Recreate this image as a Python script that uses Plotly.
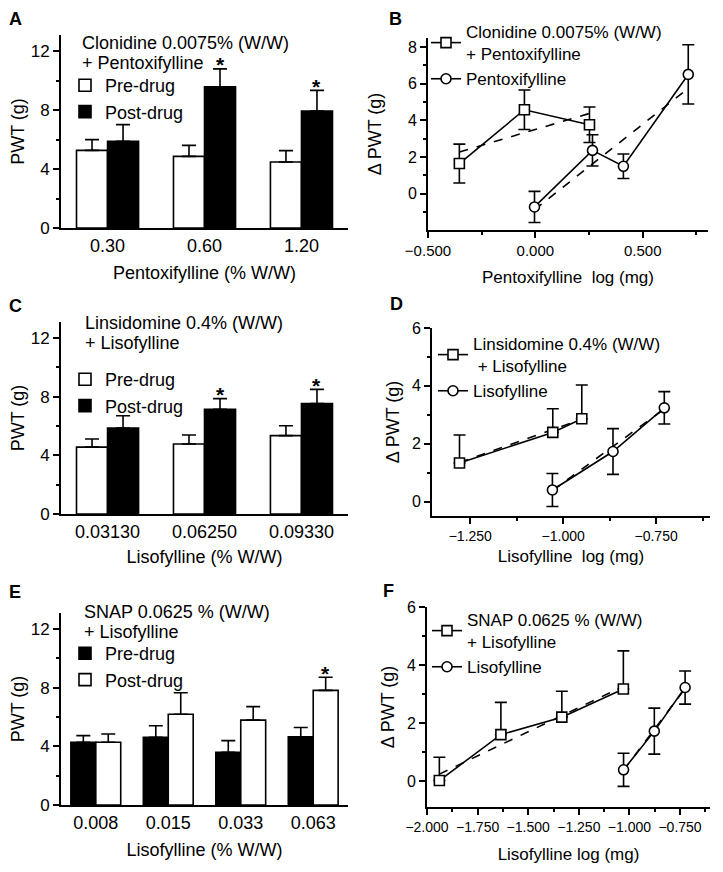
import plotly.graph_objects as go

# The page body has an 8px margin, so the figure is drawn 8px in from the window edge.
OFF = 8
W, H = 723 - 2 * OFF, 872 - 2 * OFF
FONT = "Arial, Liberation Sans, sans-serif"

# ---------------- Panel A data ----------------
a_cats = ["0.30", "0.60", "1.20"]
a_pre = [5.27, 4.86, 4.48]
a_pre_err = [0.73, 0.75, 0.77]
a_post = [5.88, 9.59, 7.93]
a_post_err = [1.14, 1.21, 1.41]
a_sig = [False, True, True]

# ---------------- Panel B data ----------------
b_sq_x = [-0.354, -0.051, 0.252]
b_sq_y = [1.64, 4.58, 3.76]
b_sq_err = [1.06, 1.08, 0.97]
b_ci_x = [-0.004, 0.266, 0.410, 0.712]
b_ci_y = [-0.73, 2.36, 1.49, 6.51]
b_ci_err = [0.85, 0.85, 0.67, 1.62]
b_sq_fit_x = [-0.354, 0.252]
b_sq_fit_y = [2.27, 4.38]
b_ci_fit_x = [-0.004, 0.712]
b_ci_fit_y = [-0.88, 5.75]

# ---------------- Panel C data ----------------
c_cats = ["0.03130", "0.06250", "0.09330"]
c_pre = [4.56, 4.78, 5.35]
c_pre_err = [0.56, 0.61, 0.67]
c_post = [5.87, 7.15, 7.53]
c_post_err = [0.83, 0.72, 0.97]
c_sig = [False, True, True]

# ---------------- Panel D data ----------------
d_sq_x = [-1.279, -1.028, -0.950]
d_sq_y = [1.33, 2.39, 2.86]
d_sq_err = [0.97, 0.82, 1.17]
d_ci_x = [-1.029, -0.866, -0.728]
d_ci_y = [0.40, 1.73, 3.24]
d_ci_err = [0.57, 0.79, 0.56]
d_sq_fit_x = [-1.279, -0.950]
d_sq_fit_y = [1.35, 2.84]
d_ci_fit_x = [-1.029, -0.728]
d_ci_fit_y = [0.38, 3.20]

# ---------------- Panel E data ----------------
e_cats = ["0.008", "0.015", "0.033", "0.063"]
e_pre = [4.28, 4.62, 3.60, 4.66]
e_pre_err = [0.45, 0.79, 0.79, 0.63]
e_post = [4.28, 6.19, 5.79, 7.82]
e_post_err = [0.56, 1.47, 0.92, 0.90]
e_sig = [False, False, False, True]

# ---------------- Panel F data ----------------
f_sq_x = [-1.939, -1.635, -1.334, -1.030]
f_sq_y = [0.03, 1.61, 2.21, 3.18]
f_sq_err = [0.80, 1.11, 0.89, 1.31]
f_ci_x = [-1.029, -0.877, -0.725]
f_ci_y = [0.40, 1.73, 3.23]
f_ci_err = [0.57, 0.79, 0.57]
f_sq_fit_x = [-1.939, -1.030]
f_sq_fit_y = [0.25, 3.27]
f_ci_fit_x = [-1.029, -0.725]
f_ci_fit_y = [0.38, 3.20]


def px(x):
    return (x - OFF) / W


def py(y):
    return 1 - (y - OFF) / H


def dx(l, r):
    return [px(l), px(r)]


def dy(top, bottom):
    return [py(bottom), py(top)]


fig = go.Figure()

AX = dict(showline=True, linecolor="black", linewidth=2, showgrid=False,
          zeroline=False, ticks="outside", ticklen=6, tickwidth=2,
          tickcolor="black", automargin=False,
          title_font=dict(size=18, color="black", family=FONT))


def tf(s):
    return dict(size=s, color="black", family=FONT)


def bar_panel(n, cats, pre, pre_err, post, post_err, sig, pre_fill, post_fill,
              xdom, ydom, xtitle, bw, legname, xstand):
    xa = "x" if n == 1 else f"x{n}"
    ya = "y" if n == 1 else f"y{n}"
    for name, vals, errs, fill, off in [("Pre-drug", pre, pre_err, pre_fill, -bw),
                                        ("Post-drug", post, post_err, post_fill, 0)]:
        fig.add_trace(go.Bar(
            x=cats, y=vals, name=name, width=bw, offset=off,
            marker=dict(color=fill, line=dict(color="black", width=1.6)),
            error_y=dict(type="data", symmetric=False, array=errs,
                         arrayminus=[0] * len(errs), color="black",
                         thickness=1.6, width=7),
            xaxis=xa, yaxis=ya, legend=legname, showlegend=True))
    for i, s in enumerate(sig):
        if s:
            fig.add_annotation(x=i + bw / 2, y=post[i] + post_err[i], xref=xa, yref=ya,
                               text="<b>*</b>", showarrow=False, yanchor="middle",
                               yshift=4, font=tf(21))
    k = "" if n == 1 else str(n)
    fig.update_layout({
        f"xaxis{k}": dict(AX, domain=xdom, type="category", ticks="",
                          range=[-0.48, len(cats) - 0.52], anchor=ya,
                          title=dict(text=xtitle, standoff=xstand),
                          tickfont=tf(18)),
        f"yaxis{k}": dict(AX, domain=ydom, range=[0, 13.1], dtick=4, anchor=xa,
                          tickfont=tf(17),
                          minor=dict(ticks="outside", dtick=2, ticklen=3, tickwidth=1.5,
                                     tickcolor="black"),
                          title=dict(text="PWT (g)", standoff=4)),
    })


def line_panel(n, sq, ci, sqfit, cifit, sq_sym, xdom, ydom, xrange, yrange,
               xt0, xdt, xtitle, sqname, ciname, legname, xfs, xstand, ystand):
    xa = f"x{n}"
    ya = f"y{n}"
    for (fx, fy) in [sqfit, cifit]:
        fig.add_trace(go.Scatter(x=fx, y=fy, mode="lines",
                                 line=dict(color="black", width=1.6, dash="dash"),
                                 xaxis=xa, yaxis=ya, showlegend=False, hoverinfo="skip"))
    sx, sy, se = sq
    err = dict(type="data", array=se, color="black", thickness=1.6, width=6)
    if not sq_sym:
        err = dict(type="data", symmetric=False, array=se, arrayminus=[0] * len(se),
                   color="black", thickness=1.6, width=6)
    fig.add_trace(go.Scatter(x=sx, y=sy, mode="lines+markers", name=sqname,
                             line=dict(color="black", width=1.6),
                             marker=dict(symbol="square", size=10, color="white",
                                         line=dict(color="black", width=1.6)),
                             error_y=err, xaxis=xa, yaxis=ya, legend=legname))
    cx, cy, ce = ci
    fig.add_trace(go.Scatter(x=cx, y=cy, mode="lines+markers", name=ciname,
                             line=dict(color="black", width=1.6),
                             marker=dict(symbol="circle", size=10, color="white",
                                         line=dict(color="black", width=1.6)),
                             error_y=dict(type="data", array=ce, color="black",
                                          thickness=1.6, width=6),
                             xaxis=xa, yaxis=ya, legend=legname))
    fig.update_layout({
        f"xaxis{n}": dict(AX, domain=xdom, range=xrange, tick0=xt0, dtick=xdt,
                          tickformat=".3f", anchor=ya, tickfont=tf(xfs),
                          minor=dict(ticks="outside", dtick=xdt / 2, ticklen=3,
                                     tickwidth=1.5, tickcolor="black"),
                          title=dict(text=xtitle, standoff=xstand,
                                     font=tf(17))),
        f"yaxis{n}": dict(AX, domain=ydom, range=yrange, tick0=0, dtick=2, anchor=xa,
                          tickfont=tf(16),
                          minor=dict(ticks="outside", dtick=1, ticklen=3,
                                     tickwidth=1.5, tickcolor="black"),
                          title=dict(text="\u0394 PWT (g)", standoff=ystand)),
    })


bar_panel(1, a_cats, a_pre, a_pre_err, a_post, a_post_err, a_sig, "white", "black",
          dx(61, 348), dy(35, 228), "Pentoxifylline (% W/W)", 0.32, "legend", 12)
line_panel(2, (b_sq_x, b_sq_y, b_sq_err), (b_ci_x, b_ci_y, b_ci_err),
           (b_sq_fit_x, b_sq_fit_y), (b_ci_fit_x, b_ci_fit_y), True,
           dx(428, 708), dy(38, 230), [-0.5, 0.804], [-1.99, 8.5], -0.5, 0.5,
           "Pentoxifylline  log (mg)", "Clonidine 0.0075% (W/W)<br>+ Pentoxifylline",
           "Pentoxifylline", "legend2", 15, 13, 22)
bar_panel(3, c_cats, c_pre, c_pre_err, c_post, c_post_err, c_sig, "white", "black",
          dx(61, 348), dy(322, 514), "Lisofylline (% W/W)", 0.32, "legend3", 10)
line_panel(4, (d_sq_x, d_sq_y, d_sq_err), (d_ci_x, d_ci_y, d_ci_err),
           (d_sq_fit_x, d_sq_fit_y), (d_ci_fit_x, d_ci_fit_y), False,
           dx(432, 710), dy(328, 516), [-1.353, -0.605], [-0.5, 6.0], -1.25, 0.25,
           "Lisofylline  log (mg)", "Linsidomine 0.4% (W/W)<br> + Lisofylline",
           "Lisofylline", "legend4", 14, 7, 8)
bar_panel(5, e_cats, e_pre, e_pre_err, e_post, e_post_err, e_sig, "black", "white",
          dx(61, 348), dy(613, 805), "Lisofylline (% W/W)", 0.344, "legend5", 12)
line_panel(6, (f_sq_x, f_sq_y, f_sq_err), (f_ci_x, f_ci_y, f_ci_err),
           (f_sq_fit_x, f_sq_fit_y), (f_ci_fit_x, f_ci_fit_y), False,
           dx(427, 710), dy(607, 807), [-2.0, -0.602], [-0.88, 6.0], -2.0, 0.25,
           "Lisofylline log (mg)", "SNAP 0.0625 % (W/W)<br>+ Lisofylline",
           "Lisofylline", "legend6", 14, 14, 8)

LEG_BAR = dict(xanchor="left", yanchor="top", bgcolor="rgba(0,0,0,0)",
               font=tf(18), tracegroupgap=0, itemwidth=30)
LEG_LINE = dict(LEG_BAR, font=tf(17))
fig.update_layout(
    legend=dict(LEG_BAR, x=px(65), y=py(67)),
    legend3=dict(LEG_BAR, x=px(65), y=py(361)),
    legend5=dict(LEG_BAR, x=px(65), y=py(635)),
    legend2=dict(LEG_LINE, x=px(426), y=py(14)),
    legend4=dict(LEG_LINE, x=px(433), y=py(326)),
    legend6=dict(LEG_LINE, x=px(427), y=py(602)),
)

# Header text for bar-chart legends (one annotation per line)
headers = [
    (80, 43, "Clonidine 0.0075% (W/W)"), (80, 63, "+ Pentoxifylline"),
    (83, 323, "Linsidomine 0.4% (W/W)"), (83, 343, "+ Lisofylline"),
    (82, 612, "SNAP 0.0625 % (W/W)"), (82, 632, "+ Lisofylline"),
]
for hx, hy, t in headers:
    fig.add_annotation(x=px(hx), y=py(hy), xref="paper", yref="paper", text=t,
                       showarrow=False, xanchor="left", yanchor="middle", align="left",
                       font=tf(18))

# Panel letters (top row anchored at the figure's top edge so nothing is clipped)
for lx, ly, t, anchor in [(15, OFF, "A", "top"), (395, OFF, "B", "top"),
                          (15, 306, "C", "middle"), (396, 304, "D", "middle"),
                          (15, 592, "E", "middle"), (388, 591, "F", "middle")]:
    fig.add_annotation(x=px(lx), y=py(ly), xref="paper", yref="paper",
                       text=f"<b>{t}</b>", showarrow=False, xanchor="center",
                       yanchor=anchor, font=tf(18), borderpad=0)

fig.update_layout(width=W, height=H, margin=dict(l=0, r=0, t=0, b=0),
                  plot_bgcolor="white", paper_bgcolor="white", barmode="overlay",
                  font=dict(family=FONT, color="black"))

fig.write_html("out.html")
